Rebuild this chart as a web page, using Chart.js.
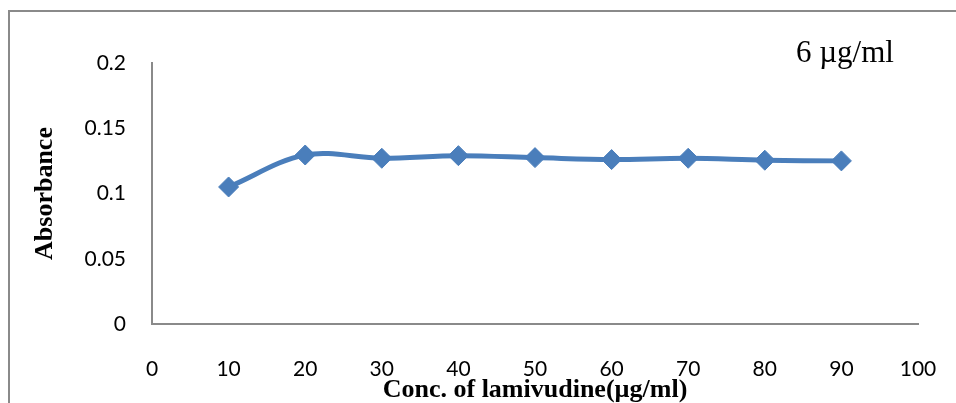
<!DOCTYPE html>
<html>
<head>
<meta charset="utf-8">
<script src="https://cdn.jsdelivr.net/npm/chart.js@4"></script>
<style>
  html, body { margin: 0; padding: 0; background: #fff; overflow: hidden; }
  #frame { position: absolute; left: 8px; top: 10px; width: 1000px; height: 500px;
           border-top: 2px solid #8a8a8a; border-left: 2px solid #8a8a8a; }
  #wrap { position: absolute; left: 0; top: 0; width: 956px; height: 403px; }
</style>
</head>
<body>
<div id="frame"></div>
<div id="wrap"><canvas id="absChart" width="956" height="403"></canvas></div>
<script>
// concentration of lamivudine (µg/ml) and absorbance
const conc = [10, 20, 30, 40, 50, 60, 70, 80, 90];
const absorbance = [0.105, 0.1295, 0.127, 0.129, 0.1275, 0.126, 0.127, 0.1255, 0.125];
const xTicks = [0, 10, 20, 30, 40, 50, 60, 70, 80, 90, 100];
const yTicks = [0, 0.05, 0.1, 0.15, 0.2];
const noteText = '6 µg/ml';

const blue = '#4a7ebb';
const axisGray = '#8a8a8a';
const tickFont = { family: 'Lato, "Liberation Sans", sans-serif', size: 21 };
const titleFont = { family: '"Liberation Serif", "Times New Roman", serif', size: 26, weight: 'bold', lineHeight: 1 };

const notePlugin = {
    id: 'note',
    afterDraw(chart) {
        const ctx = chart.ctx;
        ctx.save();
        ctx.font = '31px "Liberation Serif", "Times New Roman", serif';
        ctx.fillStyle = '#000';
        ctx.textAlign = 'left';
        ctx.textBaseline = 'alphabetic';
        ctx.fillText(noteText, 796, 62);
        ctx.restore();
    }
};

const ctx = document.getElementById('absChart').getContext('2d');
new Chart(ctx, {
    type: 'line',
    data: {
        datasets: [{
            data: conc.map((c, i) => ({ x: c, y: absorbance[i] })),
            borderColor: blue,
            backgroundColor: blue,
            borderWidth: 5,
            tension: 0.35,
            pointStyle: 'rectRot',
            pointRadius: 10,
            pointBorderWidth: 1,
            pointBackgroundColor: blue,
            pointBorderColor: blue
        }]
    },
    options: {
        responsive: false,
        animation: false,
        layout: { padding: { left: 0, top: 63, right: 38, bottom: 0 } },
        plugins: { legend: { display: false }, tooltip: { enabled: false } },
        scales: {
            x: {
                type: 'linear',
                min: 0,
                max: 100,
                afterBuildTicks: s => { s.ticks = xTicks.map(v => ({ value: v })); },
                afterFit: s => { s.height = 79; s.paddingLeft = 0; s.paddingRight = 0; },
                grid: { display: false, drawTicks: false },
                border: { display: true, color: axisGray, width: 2 },
                ticks: { color: '#000', font: tickFont, padding: 33, maxRotation: 0 },
                title: {
                    display: true,
                    text: 'Conc. of lamivudine(µg/ml)',
                    color: '#000',
                    font: titleFont,
                    padding: { top: 0, bottom: 0 }
                }
            },
            y: {
                min: 0,
                max: 0.2,
                afterBuildTicks: s => { s.ticks = yTicks.map(v => ({ value: v })); },
                afterFit: s => { s.width = 152; s.paddingTop = 0; s.paddingBottom = 0; },
                grid: { display: false, drawTicks: false },
                border: { display: true, color: axisGray, width: 2 },
                ticks: { color: '#000', font: tickFont, padding: 26, callback: v => String(v) },
                title: {
                    display: true,
                    text: 'Absorbance',
                    color: '#000',
                    font: titleFont,
                    padding: { top: 32, bottom: 0 }
                }
            }
        }
    },
    plugins: [notePlugin]
});
</script>
</body>
</html>
